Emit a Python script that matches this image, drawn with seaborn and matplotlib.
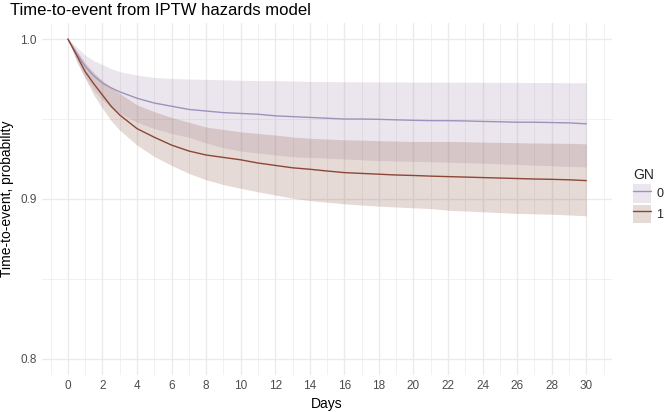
import numpy as np
import pandas as pd
import seaborn as sns
import matplotlib.pyplot as plt
from matplotlib.patches import Patch
from matplotlib.lines import Line2D

# days and survival estimates (half days at the start for the curve)
days = [0, 0.5, 1, 1.5, 2, 2.5] + list(range(3, 31))

gn0_est = [1.0, 0.991, 0.983, 0.977, 0.9725, 0.9695, 0.967, 0.963, 0.960, 0.958, 0.956, 0.955, 0.954,
           0.9535, 0.953, 0.952, 0.9515, 0.951, 0.9505, 0.950, 0.950, 0.9498, 0.9495,
           0.9492, 0.949, 0.949, 0.9488, 0.9485, 0.9483, 0.948, 0.948, 0.9478, 0.9476, 0.947]
gn0_upper = [1.0, 0.995, 0.990, 0.9865, 0.984, 0.9815, 0.9796, 0.9775, 0.976, 0.9754, 0.975, 0.9748, 0.9745,
             0.9742, 0.974, 0.974, 0.9738, 0.9735, 0.9734, 0.9733, 0.9733, 0.9732, 0.9732,
             0.9731, 0.9731, 0.9730, 0.9730, 0.9730, 0.9729, 0.9729, 0.9728, 0.9728, 0.9727, 0.9727]
gn0_lower = [1.0, 0.987, 0.976, 0.968, 0.962, 0.957, 0.9535, 0.948, 0.944, 0.941, 0.9386, 0.935, 0.932,
             0.930, 0.9288, 0.9275, 0.9265, 0.926, 0.9255, 0.925, 0.9245, 0.924, 0.9238,
             0.9235, 0.9233, 0.923, 0.9227, 0.9224, 0.922, 0.9216, 0.9212, 0.9208, 0.9204, 0.920]

gn1_est = [1.0, 0.990, 0.9796, 0.972, 0.965, 0.958, 0.9525, 0.944, 0.9386, 0.9337, 0.930, 0.9275, 0.926,
           0.9245, 0.9225, 0.921, 0.9195, 0.9186, 0.9175, 0.9165, 0.916, 0.9155, 0.915,
           0.9147, 0.9143, 0.914, 0.9137, 0.9134, 0.9131, 0.9128, 0.9125, 0.9123, 0.912, 0.9115]
gn1_upper = [1.0, 0.993, 0.985, 0.979, 0.974, 0.9695, 0.966, 0.9588, 0.9546, 0.951, 0.948, 0.945, 0.9435,
             0.942, 0.941, 0.940, 0.9388, 0.938, 0.9375, 0.937, 0.9368, 0.9365, 0.9362,
             0.936, 0.936, 0.936, 0.9358, 0.9356, 0.9354, 0.9352, 0.935, 0.9349, 0.9348, 0.9345]
gn1_lower = [1.0, 0.986, 0.9754, 0.965, 0.9567, 0.949, 0.943, 0.9337, 0.9265, 0.921, 0.916, 0.912, 0.909,
             0.9067, 0.9045, 0.9025, 0.9005, 0.899, 0.898, 0.897, 0.8962, 0.8955, 0.895,
             0.8945, 0.894, 0.893, 0.8925, 0.892, 0.8915, 0.891, 0.8907, 0.8905, 0.890, 0.8895]

groups = ["0", "1"]
line_colors = {"0": "#9d92bb", "1": "#8c4636"}
fill_colors = {"0": "#9b82aa", "1": "#824632"}

df = pd.DataFrame({
    "Days": days * 2,
    "prob": gn0_est + gn1_est,
    "lo": gn0_lower + gn1_lower,
    "hi": gn0_upper + gn1_upper,
    "GN": ["0"] * len(days) + ["1"] * len(days),
})

sns.set_theme(style="white")
plt.rcParams['font.family'] = ['Liberation Sans', 'DejaVu Sans']

fig = plt.figure(figsize=(6.72, 4.12), dpi=100)
ax = fig.add_axes([0.0625, 0.090, 0.8485, 0.854])

# ribbons
for g in groups:
    sub = df[df["GN"] == g]
    ax.fill_between(sub["Days"], sub["lo"], sub["hi"], color=fill_colors[g],
                    alpha=0.2, linewidth=0, zorder=2)

# estimate lines
sns.lineplot(data=df, x="Days", y="prob", hue="GN", palette=line_colors,
             linewidth=1.0, legend=False, ax=ax, zorder=3)

ax.set_xlim(-1.5, 31.5)
ax.set_ylim(0.79, 1.01)
ax.set_xticks(range(0, 31, 2))
ax.set_xticks(range(-1, 32, 2), minor=True)
ax.set_yticks([0.8, 0.9, 1.0])
ax.set_yticklabels(["0.8", "0.9", "1.0"])
ax.set_yticks([0.85, 0.95], minor=True)
ax.grid(which="major", color="#ebebeb", linewidth=1.0, zorder=0)
ax.grid(which="minor", color="#ebebeb", linewidth=0.5, zorder=0)
ax.set_axisbelow(True)
for s in ax.spines.values():
    s.set_visible(False)
ax.tick_params(which="both", length=0, labelsize=8.5, labelcolor="#4d4d4d", pad=4)

ax.set_xlabel("Days", fontsize=10, color="black", labelpad=3)
ax.set_ylabel("Time-to-event, probability", fontsize=10, color="black", labelpad=4)
fig.text(0.015, 0.975, "Time-to-event from IPTW hazards model", fontsize=12,
         ha="left", va="center", color="black")

handles = [(Patch(facecolor=fill_colors[g], alpha=0.2, edgecolor="none"),
            Line2D([0], [0], color=line_colors[g], linewidth=1.0)) for g in groups]
leg = fig.legend(handles, groups, title="GN", loc="center left",
                 bbox_to_anchor=(0.942, 0.525), frameon=False, fontsize=9,
                 title_fontsize=10, handlelength=1.4, handleheight=1.9,
                 handletextpad=0.45, labelspacing=0.15, borderpad=0,
                 borderaxespad=0)
leg._legend_box.align = "left"

fig.savefig("out.png", dpi=100)
